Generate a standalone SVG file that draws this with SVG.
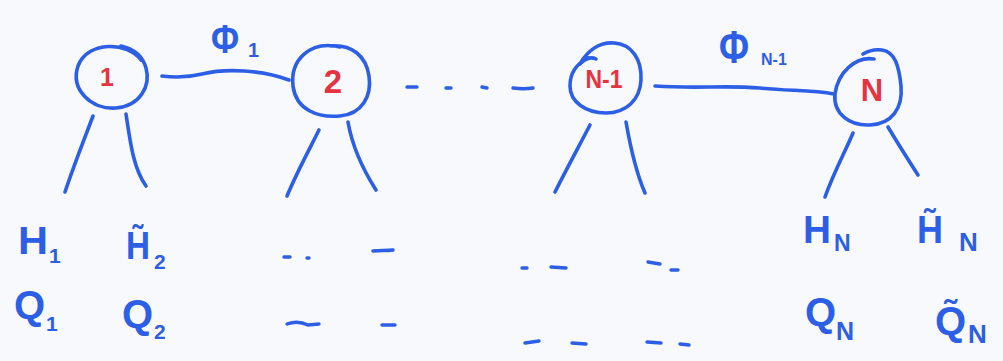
<svg xmlns="http://www.w3.org/2000/svg" width="1003" height="361" viewBox="0 0 1003 361">
  <style>
    .ink { fill: none; stroke: #2d5fe6; stroke-width: 3.6; stroke-linecap: round; stroke-linejoin: round; }
    .dash { fill: none; stroke: #2d5fe6; stroke-width: 3.4; stroke-linecap: round; }
    .num { fill: #e5333f; font-family: "Liberation Sans", Arial, sans-serif; font-weight: bold; text-anchor: middle; }
    .sym { fill: #2d5fe6; font-family: "Liberation Sans", Arial, sans-serif; font-weight: bold; }
  </style>
  <rect width="1003" height="361" fill="#f8f9fc"/>

  <!-- links between neighbouring sites -->
  <g id="connectors">
    <path class="ink" d="M 162 76 C 178 78, 190 77, 202 74 C 226 68, 262 70, 289 80"/>
    <path class="ink" d="M 655 86 C 700 89, 722 85, 760 88 C 790 91, 812 90, 834 94"/>
    <!-- dotted continuation between site 2 and site N-1 -->
    <path class="dash" d="M 407 87 L 417 87 M 446 88 L 451 88 M 482 87 L 487 88 M 513 88 C 520 89, 527 89, 533 88"/>
  </g>

  <g id="edge-label-1">
    <text class="sym" x="211" y="53" font-size="40" textLength="28" lengthAdjust="spacingAndGlyphs">Φ</text>
    <text class="sym" x="248" y="57" font-size="20">1</text>
  </g>
  <g id="edge-label-n1">
    <text class="sym" x="719" y="63" font-size="46" textLength="30" lengthAdjust="spacingAndGlyphs">Φ</text>
    <text class="sym" x="761" y="65" font-size="16">N-1</text>
  </g>

  <!-- site 1 -->
  <g id="node-1">
    <path class="ink" d="M 141 60 C 128 42, 88 40, 78 66 C 70 90, 92 110, 116 108 C 140 106, 151 86, 146 68 C 143 57, 134 49, 121 46"/>
    <text class="num" x="107" y="86" font-size="25">1</text>
    <path class="ink" d="M 93 116 C 84 140, 74 165, 65 192"/>
    <path class="ink" d="M 126 114 C 130 140, 133 168, 146 186"/>
  </g>

  <!-- site 2 -->
  <g id="node-2">
    <path class="ink" d="M 340 47 C 310 40, 290 60, 293 86 C 296 110, 318 118, 340 116 C 362 114, 372 96, 369 76 C 366 56, 352 44, 330 46"/>
    <text class="num" x="333" y="93" font-size="33">2</text>
    <path class="ink" d="M 319 130 C 308 152, 297 172, 287 196"/>
    <path class="ink" d="M 348 122 C 352 145, 362 168, 376 190"/>
  </g>

  <!-- site N-1 -->
  <g id="node-n-1">
    <path class="ink" d="M 580 64 C 588 50, 600 42, 614 43 C 632 44, 642 60, 641 80 C 640 100, 626 113, 606 113 C 586 113, 570 102, 570 86 C 570 74, 576 64, 588 58"/>
    <path class="ink" d="M 582 62 C 587 58, 592 57, 596 59"/>
    <text class="num" x="604" y="88" font-size="25" textLength="37" lengthAdjust="spacingAndGlyphs">N-1</text>
    <path class="ink" d="M 590 125 C 578 148, 566 170, 555 192"/>
    <path class="ink" d="M 626 122 C 630 145, 635 170, 645 193"/>
  </g>

  <!-- site N -->
  <g id="node-n">
    <path class="ink" d="M 874 59 C 856 56, 838 72, 835 94 C 833 114, 850 126, 870 125 C 892 124, 903 108, 901 86 C 899 66, 895 52, 882 50 C 875 49, 868 51, 863 54"/>
    <text class="num" x="872" y="101" font-size="31">N</text>
    <path class="ink" d="M 853 133 C 845 152, 834 172, 825 197"/>
    <path class="ink" d="M 888 127 C 897 142, 907 158, 918 175"/>
  </g>

  <!-- fields attached to site 1 -->
  <g id="fields-1">
    <text class="sym" x="18" y="254" font-size="38" textLength="30" lengthAdjust="spacingAndGlyphs">H</text>
    <text class="sym" x="49" y="263" font-size="21">1</text>
    <text class="sym" x="126" y="259" font-size="38" textLength="24" lengthAdjust="spacingAndGlyphs">H&#x303;</text>
    <text class="sym" x="154" y="269" font-size="21">2</text>
    <text class="sym" x="14" y="319" font-size="40">Q</text>
    <text class="sym" x="46" y="331" font-size="21">1</text>
    <text class="sym" x="122" y="328" font-size="40">Q</text>
    <text class="sym" x="154" y="339" font-size="21">2</text>
  </g>

  <!-- placeholders for the middle sites -->
  <g id="fields-middle">
    <path class="dash" d="M 284 257 L 290 257 M 307 258 L 309 258 M 373 251 C 380 250, 386 251, 393 250"/>
    <path class="dash" d="M 287 324 C 295 321, 302 322, 308 325 L 319 324 M 382 325 L 395 325"/>
    <path class="dash" d="M 522 268 L 527 268 M 551 267 L 566 268 M 648 262 L 660 264 M 671 270 L 678 270"/>
    <path class="dash" d="M 525 343 L 539 341 M 572 343 L 586 344 M 647 342 L 661 343 M 680 344 L 689 345"/>
  </g>

  <!-- fields attached to site N -->
  <g id="fields-n">
    <text class="sym" x="803" y="243" font-size="38" textLength="28" lengthAdjust="spacingAndGlyphs">H</text>
    <text class="sym" x="834" y="251" font-size="23">N</text>
    <text class="sym" x="917" y="243" font-size="38" textLength="26" lengthAdjust="spacingAndGlyphs">H&#x303;</text>
    <text class="sym" x="959" y="251" font-size="26">N</text>
    <text class="sym" x="805" y="326" font-size="40">Q</text>
    <text class="sym" x="836" y="340" font-size="25">N</text>
    <text class="sym" x="935" y="335" font-size="40">Q&#x303;</text>
    <text class="sym" x="968" y="343" font-size="26">N</text>
  </g>
</svg>
